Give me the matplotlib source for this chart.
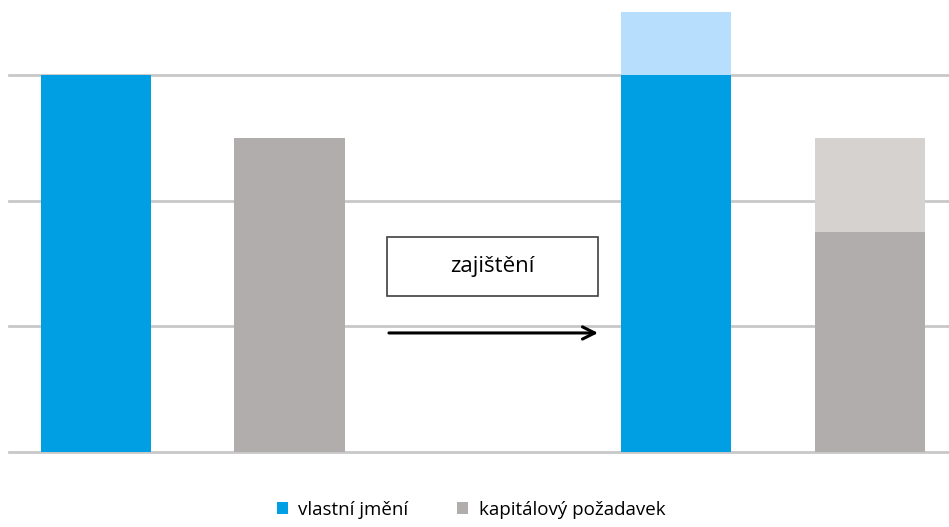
import matplotlib.pyplot as plt
from matplotlib.patches import Rectangle

plt.rcParams['font.family'] = ['Open Sans', 'DejaVu Sans']

# data
series = ['vlastní jmění', 'kapitálový požadavek']
pos_before = [0, 1]
pos_after = [3, 4]
before = [3.0, 2.5]
after_base = [3.0, 1.75]
after_delta = [0.5, 0.75]

dark = ['#009fe3', '#b2adad']
light = ['#b8defd', '#d6d2cf']

fig = plt.figure(figsize=(9.49, 5.27), dpi=100)
ax = fig.add_axes([9 / 949, (527 - 452) / 527, 940 / 949, 452 / 527])

w = 0.57
# pred zajištěním
for i in range(2):
    ax.bar(pos_before[i], before[i], width=w, color=dark[i], zorder=2, label=series[i])
# po zajištění
for i in range(2):
    ax.bar(pos_after[i], after_base[i], width=w, color=dark[i], zorder=2)
    ax.bar(pos_after[i], after_delta[i], bottom=after_base[i], width=w, color=light[i], zorder=2)

for y in [0, 1, 2, 3]:
    ax.axhline(y, color='#c8c8c8', lw=2, zorder=1, clip_on=False)

ax.set_xlim(-0.45, 4.41)
ax.set_ylim(0, 452 / 125.7)
ax.axis('off')

# box s textem
ax.add_patch(Rectangle((1.504, 1.24), 1.09, 0.47, fill=False, edgecolor='#404040', lw=1.2, zorder=3))
ax.text(2.049, 1.475, 'zajištění', ha='center', va='center', fontsize=16, zorder=4)

# sipka
ax.annotate('', xy=(2.61, 0.947), xytext=(1.5, 0.947),
            arrowprops=dict(arrowstyle='->', color='black', lw=2.2, mutation_scale=22), zorder=4)

leg = fig.legend(loc='center', bbox_to_anchor=(471 / 949, 1 - 510 / 527), ncol=2, frameon=False,
                 fontsize=13.5, handlelength=0.6, handleheight=0.6, columnspacing=2.6, handletextpad=0.55)

plt.savefig('out.png', dpi=100)
